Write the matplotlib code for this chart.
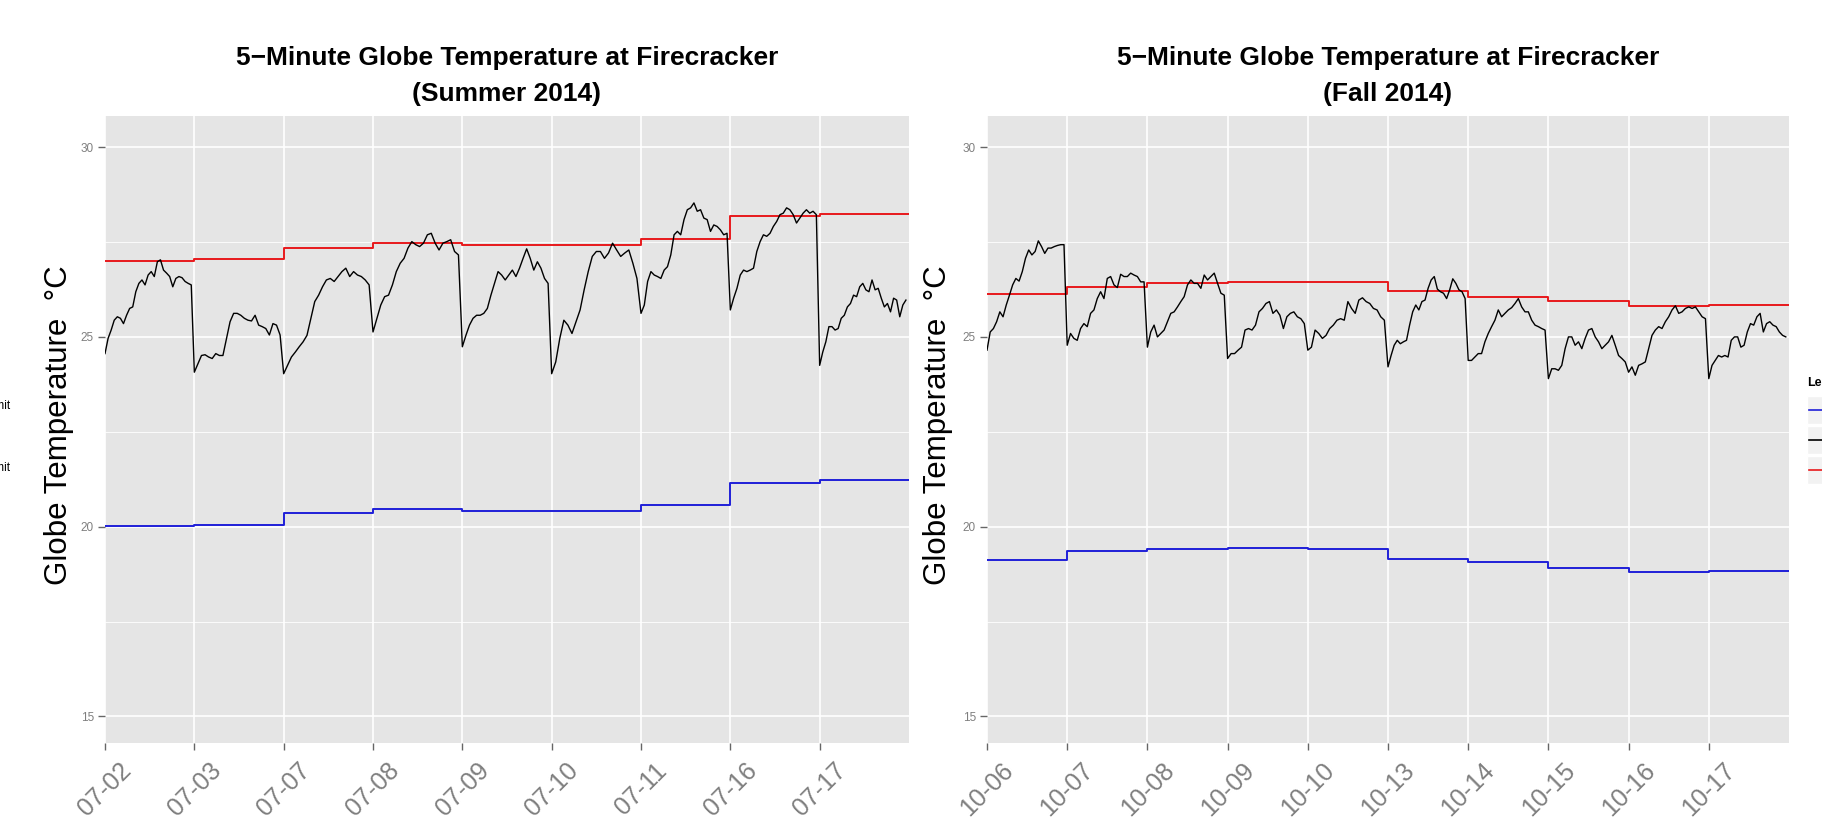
import numpy as np
import matplotlib.pyplot as plt
from matplotlib.patches import Rectangle
from matplotlib.lines import Line2D

plt.rcParams['font.family'] = ['Liberation Sans', 'DejaVu Sans']

# Summer 2014 - one list of 5-minute readings per day
summer_days = ['07-02', '07-03', '07-07', '07-08', '07-09', '07-10', '07-11', '07-16', '07-17']
summer_temp = [
    [24.56, 24.96, 25.18, 25.44, 25.53, 25.49, 25.35, 25.57, 25.75, 25.79, 26.19, 26.41, 26.50, 26.37, 26.63,
     26.72, 26.59, 26.98, 27.03, 26.76, 26.68, 26.59, 26.32, 26.54, 26.59, 26.56, 26.46, 26.41, 26.37],
    [24.07, 24.29, 24.51, 24.53, 24.47, 24.43, 24.56, 24.51, 24.51, 24.96, 25.40, 25.62, 25.62, 25.57, 25.49,
     25.44, 25.42, 25.57, 25.31, 25.27, 25.22, 25.05, 25.35, 25.31, 25.05],
    [24.03, 24.25, 24.47, 24.60, 24.74, 24.87, 25.04, 25.49, 25.93, 26.10, 26.32, 26.50, 26.54, 26.46, 26.59,
     26.72, 26.81, 26.59, 26.72, 26.63, 26.59, 26.50, 26.37],
    [25.13, 25.49, 25.84, 26.06, 26.10, 26.37, 26.72, 26.94, 27.07, 27.34, 27.51, 27.43, 27.38, 27.47, 27.69,
     27.73, 27.47, 27.29, 27.47, 27.51, 27.56, 27.25, 27.16],
    [24.74, 25.04, 25.31, 25.49, 25.57, 25.57, 25.62, 25.75, 26.10, 26.41, 26.72, 26.63, 26.50, 26.63, 26.76,
     26.59, 26.81, 27.07, 27.32, 27.07, 26.76, 26.98, 26.81, 26.54, 26.41],
    [24.03, 24.34, 24.96, 25.44, 25.31, 25.09, 25.40, 25.71, 26.24, 26.72, 27.12, 27.25, 27.25, 27.07, 27.21,
     27.47, 27.29, 27.12, 27.21, 27.29, 26.94, 26.54],
    [25.62, 25.84, 26.46, 26.72, 26.63, 26.59, 26.54, 26.76, 26.85, 27.16, 27.69, 27.78, 27.69, 28.09, 28.35,
     28.40, 28.53, 28.31, 28.35, 28.13, 28.09, 27.78, 27.95, 27.91, 27.82, 27.69, 27.73],
    [25.71, 26.02, 26.28, 26.63, 26.76, 26.72, 26.76, 26.81, 27.25, 27.51, 27.69, 27.65, 27.73, 27.91, 28.04,
     28.22, 28.26, 28.40, 28.35, 28.22, 28.00, 28.13, 28.26, 28.35, 28.26, 28.31, 28.22],
    [24.25, 24.60, 24.87, 25.27, 25.27, 25.18, 25.22, 25.49, 25.57, 25.79, 25.88, 26.10, 26.06, 26.32, 26.41,
     26.24, 26.19, 26.50, 26.24, 26.28, 26.02, 25.79, 25.88, 25.66, 26.02, 25.97, 25.53, 25.84, 25.97],
]
summer_upper = [27.01, 27.05, 27.35, 27.48, 27.41, 27.41, 27.57, 28.19, 28.25]
summer_lower = [20.01, 20.05, 20.35, 20.46, 20.40, 20.40, 20.56, 21.15, 21.24]

# Fall 2014
fall_days = ['10-06', '10-07', '10-08', '10-09', '10-10', '10-13', '10-14', '10-15', '10-16', '10-17']
fall_temp = [
    [24.65, 25.13, 25.22, 25.40, 25.66, 25.53, 25.84, 26.10, 26.37, 26.54, 26.47, 26.72, 27.07, 27.29, 27.16,
     27.25, 27.53, 27.38, 27.20, 27.34, 27.34, 27.38, 27.41, 27.43, 27.43],
    [24.78, 25.09, 24.96, 24.91, 25.22, 25.35, 25.27, 25.62, 25.71, 26.01, 26.19, 26.01, 26.54, 26.59, 26.37,
     26.30, 26.65, 26.59, 26.59, 26.68, 26.63, 26.59, 26.45, 26.45],
    [24.73, 25.13, 25.31, 25.00, 25.09, 25.18, 25.40, 25.62, 25.66, 25.79, 25.93, 26.06, 26.37, 26.50, 26.41,
     26.41, 26.28, 26.63, 26.50, 26.59, 26.68, 26.41, 26.15, 26.10],
    [24.43, 24.56, 24.56, 24.65, 24.73, 25.18, 25.22, 25.18, 25.31, 25.66, 25.75, 25.88, 25.93, 25.62, 25.71,
     25.57, 25.22, 25.53, 25.62, 25.66, 25.53, 25.48, 25.35],
    [24.65, 24.73, 25.18, 25.09, 24.96, 25.04, 25.22, 25.31, 25.44, 25.48, 25.44, 25.93, 25.75, 25.62, 25.97,
     26.03, 25.93, 25.88, 25.75, 25.71, 25.53, 25.44],
    [24.21, 24.51, 24.78, 24.91, 24.82, 24.87, 24.91, 25.31, 25.66, 25.84, 25.71, 25.93, 25.97, 26.28, 26.50,
     26.59, 26.26, 26.19, 26.15, 26.01, 26.24, 26.53, 26.41, 26.24, 26.19, 26.01],
    [24.38, 24.38, 24.47, 24.56, 24.56, 24.87, 25.09, 25.27, 25.44, 25.71, 25.53, 25.62, 25.71, 25.77, 25.88,
     26.01, 25.79, 25.66, 25.66, 25.44, 25.31, 25.27, 25.22, 25.18],
    [23.90, 24.16, 24.16, 24.12, 24.25, 24.69, 25.00, 25.00, 24.78, 24.87, 24.69, 24.96, 25.18, 25.22, 25.00,
     24.87, 24.69, 24.78, 24.87, 25.04, 24.78, 24.51, 24.43, 24.34],
    [24.07, 24.21, 23.99, 24.25, 24.29, 24.34, 24.69, 25.04, 25.18, 25.27, 25.22, 25.40, 25.53, 25.71, 25.82,
     25.62, 25.66, 25.75, 25.79, 25.75, 25.79, 25.66, 25.53, 25.48],
    [23.90, 24.25, 24.38, 24.51, 24.47, 24.51, 24.47, 24.91, 25.00, 25.00, 24.73, 24.78, 25.13, 25.35, 25.31,
     25.53, 25.62, 25.13, 25.35, 25.40, 25.31, 25.27, 25.13, 25.04, 25.00],
]
fall_upper = [26.13, 26.32, 26.41, 26.45, 26.45, 26.21, 26.05, 25.95, 25.81, 25.85]
fall_lower = [19.13, 19.35, 19.41, 19.44, 19.41, 19.16, 19.06, 18.92, 18.81, 18.84]

RED = '#E8191C'
BLUE = '#1F1FD8'
GREY_TXT = '#7F7F7F'
W, H = 1822, 824

fig = plt.figure(figsize=(W / 100, H / 100), dpi=100)


def draw_panel(left_px, right_px, days, temp, upper, lower, season):
    ax = fig.add_axes([left_px / W, (H - 743) / H, (right_px - left_px) / W, (743 - 116) / H])
    ax.set_facecolor('#E5E5E5')
    for s in ax.spines.values():
        s.set_visible(False)

    n = len(days)
    xs = np.concatenate([i + np.arange(len(v)) / len(v) for i, v in enumerate(temp)])
    ys = np.concatenate(temp)
    steps = np.arange(n + 1)
    ax.step(steps, upper + upper[-1:], where='post', color=RED, lw=1.4, zorder=3)
    ax.step(steps, lower + lower[-1:], where='post', color=BLUE, lw=1.4, zorder=3)
    ax.plot(xs, ys, color='black', lw=1.0, zorder=4)

    ax.set_xlim(0, n)
    ax.set_ylim(14.3, 30.82)
    ax.set_xticks(range(n))
    ax.set_xticklabels(days, rotation=45, ha='center', va='top', fontsize=18, color=GREY_TXT)
    ax.set_yticks([15, 20, 25, 30])
    ax.set_yticks([17.5, 22.5, 27.5], minor=True)
    ax.tick_params(axis='y', labelsize=8.5, labelcolor=GREY_TXT, length=5, width=1, color='#666666', pad=3)
    ax.tick_params(axis='x', length=5, width=1, color='#666666', pad=6)
    ax.tick_params(which='minor', length=0)
    ax.grid(which='major', color='white', lw=1.2)
    ax.grid(which='minor', axis='y', color='white', lw=0.6)
    ax.set_axisbelow(True)

    cx = (left_px + right_px) / 2 / W
    fig.text(cx, 1 - 65 / H, '5\u2212Minute Globe Temperature at Firecracker',
             ha='center', va='baseline', fontsize=19, fontweight='bold')
    fig.text(cx, 1 - 101.5 / H, f'({season} 2014)',
             ha='center', va='baseline', fontsize=19, fontweight='bold')
    return ax


draw_panel(105, 909, summer_days, summer_temp, summer_upper, summer_lower, 'Summer')
draw_panel(987, 1789, fall_days, fall_temp, fall_upper, fall_lower, 'Fall')

# y axis titles
for xc in (59, 938):
    fig.text(xc / W, 1 - 425 / H, 'Globe Temperature  \u00b0C', rotation=90,
             ha='center', va='center', fontsize=22.5)

# cut-off legend labels of the neighbouring chart (left edge)
for yb, lab in ((409, 'Lower Limit'), (471, 'Upper Limit')):
    fig.text(10 / W, 1 - yb / H, lab, ha='right', va='baseline', fontsize=8.5)

# cut-off legend on the right edge
fig.text(1807 / W, 1 - 386 / H, 'Legend', ha='left', va='baseline', fontsize=9, fontweight='bold')
for (top, col) in ((396, BLUE), (426, 'black'), (456, RED)):
    fig.add_artist(Rectangle((1807 / W, 1 - (top + 28) / H), 40 / W, 28 / H,
                             transform=fig.transFigure, facecolor='#F2F2F2', edgecolor='white', lw=1))
    yl = 1 - (top + 14) / H
    fig.add_artist(Line2D([1809 / W, 1850 / W], [yl, yl], transform=fig.transFigure, color=col, lw=1.2))

fig.savefig('out.png', dpi=100)
